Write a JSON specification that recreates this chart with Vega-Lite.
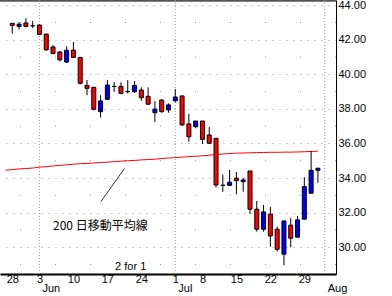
{
  "$schema": "https://vega.github.io/schema/vega-lite/v6.json",
  "width": 336,
  "height": 274,
  "autosize": {"type": "none"},
  "padding": {"left": 0, "top": 0, "right": 56, "bottom": 22},
  "background": "white",
  "config": {
    "view": {"stroke": null},
    "font": "Liberation Sans",
    "axis": {"labelFont": "Liberation Sans", "labelFontSize": 11, "labelColor": "black"}
  },
  "datasets": {
    "candles": [
      {"i": 0, "o": 42.95, "h": 42.95, "l": 42.35, "c": 42.83},
      {"i": 1, "o": 42.77, "h": 43.02, "l": 42.59, "c": 42.90},
      {"i": 2, "o": 42.97, "h": 43.25, "l": 42.72, "c": 42.77},
      {"i": 3, "o": 42.81, "h": 43.08, "l": 42.68, "c": 42.81},
      {"i": 4, "o": 42.85, "h": 42.89, "l": 42.31, "c": 42.31},
      {"i": 5, "o": 42.33, "h": 42.33, "l": 41.36, "c": 41.42},
      {"i": 6, "o": 41.58, "h": 41.69, "l": 41.16, "c": 41.21},
      {"i": 7, "o": 41.29, "h": 41.35, "l": 40.75, "c": 40.84},
      {"i": 8, "o": 40.71, "h": 41.62, "l": 40.67, "c": 41.39},
      {"i": 9, "o": 41.40, "h": 41.87, "l": 40.98, "c": 40.98},
      {"i": 10, "o": 40.98, "h": 40.98, "l": 39.42, "c": 39.48},
      {"i": 11, "o": 39.36, "h": 39.67, "l": 38.80, "c": 39.19},
      {"i": 12, "o": 39.25, "h": 39.25, "l": 37.92, "c": 37.98},
      {"i": 13, "o": 37.84, "h": 38.79, "l": 37.51, "c": 38.46},
      {"i": 14, "o": 38.55, "h": 39.67, "l": 38.55, "c": 39.38},
      {"i": 15, "o": 39.30, "h": 39.55, "l": 38.98, "c": 39.30},
      {"i": 16, "o": 39.30, "h": 39.54, "l": 38.90, "c": 38.90},
      {"i": 17, "o": 39.00, "h": 39.67, "l": 38.89, "c": 39.00},
      {"i": 18, "o": 38.99, "h": 39.61, "l": 38.94, "c": 39.36},
      {"i": 19, "o": 39.09, "h": 39.25, "l": 38.47, "c": 38.65},
      {"i": 20, "o": 38.73, "h": 39.25, "l": 38.27, "c": 38.27},
      {"i": 21, "o": 37.78, "h": 38.45, "l": 37.24, "c": 37.99},
      {"i": 22, "o": 38.51, "h": 38.57, "l": 37.78, "c": 37.84},
      {"i": 23, "o": 37.94, "h": 38.32, "l": 37.78, "c": 38.23},
      {"i": 24, "o": 38.47, "h": 39.15, "l": 38.38, "c": 38.69},
      {"i": 25, "o": 38.75, "h": 38.75, "l": 37.03, "c": 37.07},
      {"i": 26, "o": 37.13, "h": 37.71, "l": 36.10, "c": 36.39},
      {"i": 27, "o": 36.97, "h": 37.30, "l": 36.88, "c": 37.30},
      {"i": 28, "o": 37.30, "h": 37.30, "l": 35.97, "c": 36.24},
      {"i": 29, "o": 36.49, "h": 36.95, "l": 36.01, "c": 36.01},
      {"i": 30, "o": 36.30, "h": 36.30, "l": 33.46, "c": 33.60},
      {"i": 31, "o": 33.58, "h": 34.20, "l": 33.20, "c": 33.58},
      {"i": 32, "o": 33.58, "h": 34.47, "l": 33.54, "c": 33.76},
      {"i": 33, "o": 33.99, "h": 34.35, "l": 33.06, "c": 33.85},
      {"i": 34, "o": 33.79, "h": 34.02, "l": 33.21, "c": 33.89},
      {"i": 35, "o": 34.41, "h": 34.41, "l": 31.92, "c": 32.20},
      {"i": 36, "o": 32.20, "h": 32.68, "l": 30.90, "c": 31.04},
      {"i": 37, "o": 31.04, "h": 32.45, "l": 30.90, "c": 32.04},
      {"i": 38, "o": 31.91, "h": 32.33, "l": 30.03, "c": 30.65},
      {"i": 39, "o": 31.04, "h": 31.19, "l": 29.75, "c": 29.88},
      {"i": 40, "o": 29.60, "h": 31.52, "l": 28.96, "c": 31.52},
      {"i": 41, "o": 31.27, "h": 31.68, "l": 30.00, "c": 30.52},
      {"i": 42, "o": 30.58, "h": 31.81, "l": 30.58, "c": 31.58},
      {"i": 43, "o": 31.62, "h": 34.05, "l": 31.62, "c": 33.50},
      {"i": 44, "o": 33.12, "h": 35.57, "l": 33.12, "c": 34.45},
      {"i": 45, "o": 34.45, "h": 34.57, "l": 33.73, "c": 34.57}
    ],
    "ma": [
      {"i": -1, "v": 34.45}, {"i": 0, "v": 34.49}, {"i": 1, "v": 34.53}, {"i": 2, "v": 34.55},
      {"i": 3, "v": 34.58}, {"i": 4, "v": 34.63}, {"i": 5, "v": 34.66}, {"i": 6, "v": 34.70},
      {"i": 7, "v": 34.73}, {"i": 8, "v": 34.77}, {"i": 9, "v": 34.80}, {"i": 10, "v": 34.83},
      {"i": 11, "v": 34.85}, {"i": 12, "v": 34.87}, {"i": 13, "v": 34.90}, {"i": 14, "v": 34.92},
      {"i": 15, "v": 34.95}, {"i": 16, "v": 34.98}, {"i": 17, "v": 35.00}, {"i": 18, "v": 35.02},
      {"i": 19, "v": 35.05}, {"i": 20, "v": 35.07}, {"i": 21, "v": 35.09}, {"i": 22, "v": 35.13},
      {"i": 23, "v": 35.16}, {"i": 24, "v": 35.18}, {"i": 25, "v": 35.21}, {"i": 26, "v": 35.24},
      {"i": 27, "v": 35.26}, {"i": 28, "v": 35.29}, {"i": 29, "v": 35.32}, {"i": 30, "v": 35.36},
      {"i": 31, "v": 35.39}, {"i": 32, "v": 35.42}, {"i": 33, "v": 35.44}, {"i": 34, "v": 35.45},
      {"i": 35, "v": 35.46}, {"i": 36, "v": 35.47}, {"i": 37, "v": 35.48}, {"i": 38, "v": 35.49},
      {"i": 39, "v": 35.49}, {"i": 40, "v": 35.50}, {"i": 41, "v": 35.50}, {"i": 42, "v": 35.51},
      {"i": 43, "v": 35.52}, {"i": 44, "v": 35.54}, {"i": 45, "v": 35.55}
    ],
    "months": [{"i": 4, "p": 27.92, "name": "Jun"}, {"i": 24, "p": 27.92, "name": "Jul"}, {"i": 46, "p": 27.92, "name": "Aug"}],
    "oddgrid": [{"p": 29}, {"p": 31}, {"p": 33}, {"p": 35}, {"p": 37}, {"p": 39}, {"p": 41}, {"p": 43}],
    "pointer": [{"i1": 13.04, "p1": 32.63, "i2": 16.53, "p2": 34.56}],
    "label200": [{"i": 6, "p": 31.21, "text": "200 日移動平均線"}],
    "split": [{"i": 15.14, "p": 28.87, "text": "2 for 1"}],
    "topline": [{"p": 44.25}]
  },
  "layer": [
    {
      "data": {"name": "topline"},
      "mark": {"type": "rule", "color": "#555555", "strokeWidth": 2},
      "encoding": {
        "y": {
          "field": "p", "type": "quantitative", "title": null,
          "scale": {"domain": [28.45, 44.30], "nice": false, "zero": false},
          "axis": {
            "orient": "right", "title": null,
            "values": [30, 32, 34, 36, 38, 40, 42, 44],
            "format": ".2f",
            "labelPadding": 2, "labelAlign": "left", "labelBaseline": "middle",
            "labelFlush": false, "labelOverlap": false, "labelBound": false,
            "ticks": false, "tickSize": 0,
            "domain": true, "domainColor": "black", "domainWidth": 1,
            "grid": true, "gridColor": "#999999", "gridWidth": 1, "gridDash": [1, 6]
          }
        }
      }
    },
    {
      "data": {"name": "months"},
      "mark": {"type": "rule", "color": "#999999", "strokeWidth": 1, "strokeDash": [1, 2]},
      "encoding": {
        "x": {
          "field": "i", "type": "quantitative", "title": null,
          "scale": {"domain": [-1.0714, 46.9286], "nice": false, "zero": false},
          "axis": {
            "orient": "bottom", "title": null, "values": [0, 4, 9, 14, 19, 24, 28, 33, 38, 43],
            "labelExpr": "datum.value == 0 ? '28' : datum.value == 4 ? '3' : datum.value == 9 ? '10' : datum.value == 14 ? '17' : datum.value == 19 ? '24' : datum.value == 24 ? '1' : datum.value == 28 ? '8' : datum.value == 33 ? '15' : datum.value == 38 ? '22' : '29'",
            "labelAlign": "center", "labelBaseline": "top", "labelPadding": -1,
            "domain": true, "domainColor": "black", "domainWidth": 2,
            "ticks": false, "tickSize": 0, "grid": false,
            "labelFlush": false, "labelOverlap": false, "labelBound": false
          }
        }
      }
    },
    {
      "data": {"name": "months"},
      "mark": {"type": "text", "font": "Liberation Sans", "fontSize": 11, "align": "left", "baseline": "top", "dx": 3, "color": "black"},
      "encoding": {
        "x": {
          "field": "i", "type": "quantitative", "title": null,
          "scale": {"domain": [-1.0714, 46.9286], "nice": false, "zero": false},
          "axis": {
            "orient": "bottom", "title": null, "values": [0, 4, 9, 14, 19, 24, 28, 33, 38, 43],
            "labelExpr": "datum.value == 0 ? '28' : datum.value == 4 ? '3' : datum.value == 9 ? '10' : datum.value == 14 ? '17' : datum.value == 19 ? '24' : datum.value == 24 ? '1' : datum.value == 28 ? '8' : datum.value == 33 ? '15' : datum.value == 38 ? '22' : '29'",
            "labelAlign": "center", "labelBaseline": "top", "labelPadding": -1,
            "domain": true, "domainColor": "black", "domainWidth": 2,
            "ticks": false, "tickSize": 0, "grid": false,
            "labelFlush": false, "labelOverlap": false, "labelBound": false
          }
        },
        "y": {
          "field": "p", "type": "quantitative", "title": null,
          "scale": {"domain": [28.45, 44.30], "nice": false, "zero": false},
          "axis": {
            "orient": "right", "title": null,
            "values": [30, 32, 34, 36, 38, 40, 42, 44],
            "format": ".2f",
            "labelPadding": 2, "labelAlign": "left", "labelBaseline": "middle",
            "labelFlush": false, "labelOverlap": false, "labelBound": false,
            "ticks": false, "tickSize": 0,
            "domain": true, "domainColor": "black", "domainWidth": 1,
            "grid": true, "gridColor": "#999999", "gridWidth": 1, "gridDash": [1, 6]
          }
        },
        "text": {"field": "name"}
      }
    },
    {
      "data": {"name": "oddgrid"},
      "mark": {"type": "rule", "color": "#999999", "strokeWidth": 1, "strokeDash": [1, 34]},
      "encoding": {
        "y": {
          "field": "p", "type": "quantitative", "title": null,
          "scale": {"domain": [28.45, 44.30], "nice": false, "zero": false},
          "axis": {
            "orient": "right", "title": null,
            "values": [30, 32, 34, 36, 38, 40, 42, 44],
            "format": ".2f",
            "labelPadding": 2, "labelAlign": "left", "labelBaseline": "middle",
            "labelFlush": false, "labelOverlap": false, "labelBound": false,
            "ticks": false, "tickSize": 0,
            "domain": true, "domainColor": "black", "domainWidth": 1,
            "grid": true, "gridColor": "#999999", "gridWidth": 1, "gridDash": [1, 6]
          }
        }
      }
    },
    {
      "data": {"name": "ma"},
      "mark": {"type": "line", "color": "#ff0000", "strokeWidth": 1},
      "encoding": {
        "x": {
          "field": "i", "type": "quantitative", "title": null,
          "scale": {"domain": [-1.0714, 46.9286], "nice": false, "zero": false},
          "axis": {
            "orient": "bottom", "title": null, "values": [0, 4, 9, 14, 19, 24, 28, 33, 38, 43],
            "labelExpr": "datum.value == 0 ? '28' : datum.value == 4 ? '3' : datum.value == 9 ? '10' : datum.value == 14 ? '17' : datum.value == 19 ? '24' : datum.value == 24 ? '1' : datum.value == 28 ? '8' : datum.value == 33 ? '15' : datum.value == 38 ? '22' : '29'",
            "labelAlign": "center", "labelBaseline": "top", "labelPadding": -1,
            "domain": true, "domainColor": "black", "domainWidth": 2,
            "ticks": false, "tickSize": 0, "grid": false,
            "labelFlush": false, "labelOverlap": false, "labelBound": false
          }
        },
        "y": {
          "field": "v", "type": "quantitative", "title": null,
          "scale": {"domain": [28.45, 44.30], "nice": false, "zero": false},
          "axis": {
            "orient": "right", "title": null,
            "values": [30, 32, 34, 36, 38, 40, 42, 44],
            "format": ".2f",
            "labelPadding": 2, "labelAlign": "left", "labelBaseline": "middle",
            "labelFlush": false, "labelOverlap": false, "labelBound": false,
            "ticks": false, "tickSize": 0,
            "domain": true, "domainColor": "black", "domainWidth": 1,
            "grid": true, "gridColor": "#999999", "gridWidth": 1, "gridDash": [1, 6]
          }
        }
      }
    },
    {
      "data": {"name": "pointer"},
      "mark": {"type": "rule", "color": "#333333", "strokeWidth": 1},
      "encoding": {
        "x": {
          "field": "i1", "type": "quantitative", "title": null,
          "scale": {"domain": [-1.0714, 46.9286], "nice": false, "zero": false},
          "axis": {
            "orient": "bottom", "title": null, "values": [0, 4, 9, 14, 19, 24, 28, 33, 38, 43],
            "labelExpr": "datum.value == 0 ? '28' : datum.value == 4 ? '3' : datum.value == 9 ? '10' : datum.value == 14 ? '17' : datum.value == 19 ? '24' : datum.value == 24 ? '1' : datum.value == 28 ? '8' : datum.value == 33 ? '15' : datum.value == 38 ? '22' : '29'",
            "labelAlign": "center", "labelBaseline": "top", "labelPadding": -1,
            "domain": true, "domainColor": "black", "domainWidth": 2,
            "ticks": false, "tickSize": 0, "grid": false,
            "labelFlush": false, "labelOverlap": false, "labelBound": false
          }
        },
        "x2": {"field": "i2"},
        "y": {
          "field": "p1", "type": "quantitative", "title": null,
          "scale": {"domain": [28.45, 44.30], "nice": false, "zero": false},
          "axis": {
            "orient": "right", "title": null,
            "values": [30, 32, 34, 36, 38, 40, 42, 44],
            "format": ".2f",
            "labelPadding": 2, "labelAlign": "left", "labelBaseline": "middle",
            "labelFlush": false, "labelOverlap": false, "labelBound": false,
            "ticks": false, "tickSize": 0,
            "domain": true, "domainColor": "black", "domainWidth": 1,
            "grid": true, "gridColor": "#999999", "gridWidth": 1, "gridDash": [1, 6]
          }
        },
        "y2": {"field": "p2"}
      }
    },
    {
      "data": {"name": "label200"},
      "mark": {"type": "text", "font": "Noto Sans CJK JP", "fontSize": 12, "align": "left", "baseline": "middle", "color": "black"},
      "encoding": {
        "x": {
          "field": "i", "type": "quantitative", "title": null,
          "scale": {"domain": [-1.0714, 46.9286], "nice": false, "zero": false},
          "axis": {
            "orient": "bottom", "title": null, "values": [0, 4, 9, 14, 19, 24, 28, 33, 38, 43],
            "labelExpr": "datum.value == 0 ? '28' : datum.value == 4 ? '3' : datum.value == 9 ? '10' : datum.value == 14 ? '17' : datum.value == 19 ? '24' : datum.value == 24 ? '1' : datum.value == 28 ? '8' : datum.value == 33 ? '15' : datum.value == 38 ? '22' : '29'",
            "labelAlign": "center", "labelBaseline": "top", "labelPadding": -1,
            "domain": true, "domainColor": "black", "domainWidth": 2,
            "ticks": false, "tickSize": 0, "grid": false,
            "labelFlush": false, "labelOverlap": false, "labelBound": false
          }
        },
        "y": {
          "field": "p", "type": "quantitative", "title": null,
          "scale": {"domain": [28.45, 44.30], "nice": false, "zero": false},
          "axis": {
            "orient": "right", "title": null,
            "values": [30, 32, 34, 36, 38, 40, 42, 44],
            "format": ".2f",
            "labelPadding": 2, "labelAlign": "left", "labelBaseline": "middle",
            "labelFlush": false, "labelOverlap": false, "labelBound": false,
            "ticks": false, "tickSize": 0,
            "domain": true, "domainColor": "black", "domainWidth": 1,
            "grid": true, "gridColor": "#999999", "gridWidth": 1, "gridDash": [1, 6]
          }
        },
        "text": {"field": "text"}
      }
    },
    {
      "data": {"name": "split"},
      "mark": {"type": "text", "font": "Liberation Sans", "fontSize": 11, "align": "left", "baseline": "middle", "color": "black"},
      "encoding": {
        "x": {
          "field": "i", "type": "quantitative", "title": null,
          "scale": {"domain": [-1.0714, 46.9286], "nice": false, "zero": false},
          "axis": {
            "orient": "bottom", "title": null, "values": [0, 4, 9, 14, 19, 24, 28, 33, 38, 43],
            "labelExpr": "datum.value == 0 ? '28' : datum.value == 4 ? '3' : datum.value == 9 ? '10' : datum.value == 14 ? '17' : datum.value == 19 ? '24' : datum.value == 24 ? '1' : datum.value == 28 ? '8' : datum.value == 33 ? '15' : datum.value == 38 ? '22' : '29'",
            "labelAlign": "center", "labelBaseline": "top", "labelPadding": -1,
            "domain": true, "domainColor": "black", "domainWidth": 2,
            "ticks": false, "tickSize": 0, "grid": false,
            "labelFlush": false, "labelOverlap": false, "labelBound": false
          }
        },
        "y": {
          "field": "p", "type": "quantitative", "title": null,
          "scale": {"domain": [28.45, 44.30], "nice": false, "zero": false},
          "axis": {
            "orient": "right", "title": null,
            "values": [30, 32, 34, 36, 38, 40, 42, 44],
            "format": ".2f",
            "labelPadding": 2, "labelAlign": "left", "labelBaseline": "middle",
            "labelFlush": false, "labelOverlap": false, "labelBound": false,
            "ticks": false, "tickSize": 0,
            "domain": true, "domainColor": "black", "domainWidth": 1,
            "grid": true, "gridColor": "#999999", "gridWidth": 1, "gridDash": [1, 6]
          }
        },
        "text": {"field": "text"}
      }
    },
    {
      "data": {"name": "candles"},
      "mark": {"type": "rule", "color": "black", "strokeWidth": 1},
      "encoding": {
        "x": {
          "field": "i", "type": "quantitative", "title": null,
          "scale": {"domain": [-1.0714, 46.9286], "nice": false, "zero": false},
          "axis": {
            "orient": "bottom", "title": null, "values": [0, 4, 9, 14, 19, 24, 28, 33, 38, 43],
            "labelExpr": "datum.value == 0 ? '28' : datum.value == 4 ? '3' : datum.value == 9 ? '10' : datum.value == 14 ? '17' : datum.value == 19 ? '24' : datum.value == 24 ? '1' : datum.value == 28 ? '8' : datum.value == 33 ? '15' : datum.value == 38 ? '22' : '29'",
            "labelAlign": "center", "labelBaseline": "top", "labelPadding": -1,
            "domain": true, "domainColor": "black", "domainWidth": 2,
            "ticks": false, "tickSize": 0, "grid": false,
            "labelFlush": false, "labelOverlap": false, "labelBound": false
          }
        },
        "y": {
          "field": "l", "type": "quantitative", "title": null,
          "scale": {"domain": [28.45, 44.30], "nice": false, "zero": false},
          "axis": {
            "orient": "right", "title": null,
            "values": [30, 32, 34, 36, 38, 40, 42, 44],
            "format": ".2f",
            "labelPadding": 2, "labelAlign": "left", "labelBaseline": "middle",
            "labelFlush": false, "labelOverlap": false, "labelBound": false,
            "ticks": false, "tickSize": 0,
            "domain": true, "domainColor": "black", "domainWidth": 1,
            "grid": true, "gridColor": "#999999", "gridWidth": 1, "gridDash": [1, 6]
          }
        },
        "y2": {"field": "h"}
      }
    },
    {
      "data": {"name": "candles"},
      "mark": {"type": "bar", "size": 4, "stroke": "black", "strokeWidth": 1},
      "encoding": {
        "x": {
          "field": "i", "type": "quantitative", "title": null,
          "scale": {"domain": [-1.0714, 46.9286], "nice": false, "zero": false},
          "axis": {
            "orient": "bottom", "title": null, "values": [0, 4, 9, 14, 19, 24, 28, 33, 38, 43],
            "labelExpr": "datum.value == 0 ? '28' : datum.value == 4 ? '3' : datum.value == 9 ? '10' : datum.value == 14 ? '17' : datum.value == 19 ? '24' : datum.value == 24 ? '1' : datum.value == 28 ? '8' : datum.value == 33 ? '15' : datum.value == 38 ? '22' : '29'",
            "labelAlign": "center", "labelBaseline": "top", "labelPadding": -1,
            "domain": true, "domainColor": "black", "domainWidth": 2,
            "ticks": false, "tickSize": 0, "grid": false,
            "labelFlush": false, "labelOverlap": false, "labelBound": false
          }
        },
        "y": {
          "field": "o", "type": "quantitative", "title": null,
          "scale": {"domain": [28.45, 44.30], "nice": false, "zero": false},
          "axis": {
            "orient": "right", "title": null,
            "values": [30, 32, 34, 36, 38, 40, 42, 44],
            "format": ".2f",
            "labelPadding": 2, "labelAlign": "left", "labelBaseline": "middle",
            "labelFlush": false, "labelOverlap": false, "labelBound": false,
            "ticks": false, "tickSize": 0,
            "domain": true, "domainColor": "black", "domainWidth": 1,
            "grid": true, "gridColor": "#999999", "gridWidth": 1, "gridDash": [1, 6]
          }
        },
        "y2": {"field": "c"},
        "fill": {"condition": {"test": "datum.c > datum.o", "value": "#0000ff"}, "value": "#ff0000"}
      }
    }
  ]
}
